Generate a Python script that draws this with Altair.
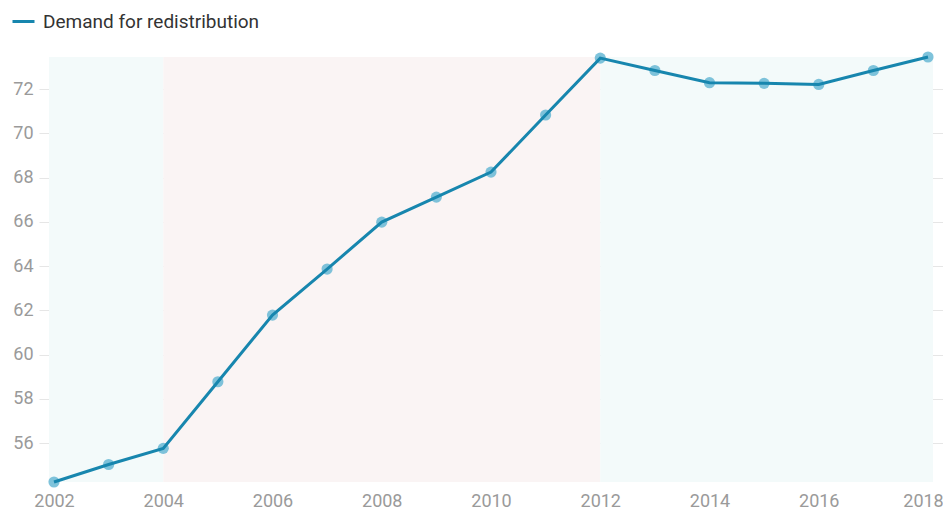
import altair as alt
import pandas as pd

years = [2002, 2003, 2004, 2005, 2006, 2007, 2008, 2009, 2010,
         2011, 2012, 2013, 2014, 2015, 2016, 2017, 2018]
demand = [54.25, 55.04, 55.77, 58.78, 61.79, 63.87, 65.99, 67.12, 68.25,
          70.83, 73.40, 72.84, 72.29, 72.26, 72.21, 72.84, 73.45]
series_name = "Demand for redistribution"

band_start = [2002, 2004, 2012]
band_end = [2004, 2012, 2018]
band_kind = ["a", "b", "a"]

x_ticks = [2002, 2004, 2006, 2008, 2010, 2012, 2014, 2016, 2018]
y_ticks = [56, 58, 60, 62, 64, 66, 68, 70, 72]

LINE = "#1786ae"
POINT = "#5fb4d2"
FONT = "Roboto"
W, H = 904, 425

df = pd.DataFrame({"year": years, "value": demand, "series": series_name})
bands = pd.DataFrame({"start": band_start, "end": band_end, "kind": band_kind})

xscale = alt.Scale(domain=[min(years), max(years)], padding=15, nice=False)
yscale = alt.Scale(zero=False, nice=False)

band_color = alt.Color("kind:N", scale=alt.Scale(domain=["a", "b"], range=["#f3fafa", "#faf4f4"]), legend=None)

def band_layer(**kw):
    return alt.Chart(bands).mark_rect(**kw).encode(
        x=alt.X("start:Q", scale=xscale),
        x2="end:Q",
        y=alt.value(0),
        y2=alt.value(H),
        color=band_color,
    )

b1 = band_layer(xOffset=-5).transform_filter(alt.datum.start == band_start[0])
b2 = band_layer().transform_filter((alt.datum.start != band_start[0]) & (alt.datum.end != band_end[-1]))
b3 = band_layer(x2Offset=5).transform_filter(alt.datum.end == band_end[-1])

last_label_shift = {"condition": {"test": f"datum.value == {max(years)}", "value": -5}, "value": 0}

x_enc = alt.X("year:Q", scale=xscale,
              axis=alt.Axis(values=x_ticks, format="d", title=None, grid=False, domain=False,
                            ticks=False, labelPadding=10, labelFontSize=18, labelColor="#9a9a9a",
                            labelFont=FONT, labelFlush=False, labelOffset=last_label_shift))
y_enc = alt.Y("value:Q", scale=yscale,
              axis=alt.Axis(values=y_ticks, title=None, grid=True, gridColor="#e6e6e6", gridWidth=1.2,
                            domain=False, ticks=False, labelPadding=6, labelFontSize=18,
                            labelColor="#9a9a9a", labelFont=FONT))

points = alt.Chart(df).mark_circle(size=125, color=POINT, opacity=0.8).encode(x=x_enc, y=y_enc)
line = alt.Chart(df).mark_line(strokeWidth=3).encode(
    x="year:Q", y="value:Q",
    color=alt.Color("series:N", scale=alt.Scale(range=[LINE]),
                    legend=alt.Legend(title=None, orient="none", legendX=-28, legendY=-48,
                                      symbolType="stroke", symbolSize=484, symbolStrokeWidth=3,
                                      labelFontSize=19, labelFont=FONT, labelColor="#333333",
                                      labelOffset=7, labelLimit=0)),
)

chart = alt.layer(b1, b2, b3, points, line).resolve_scale(color="independent").properties(
    width=W, height=H,
    autosize=alt.AutoSizeParams(type="none"),
    padding={"left": 31, "top": 49, "right": 0, "bottom": 32},
).configure_view(stroke=None)

chart.save("out.html", embed_options={"renderer": "svg", "actions": False})
